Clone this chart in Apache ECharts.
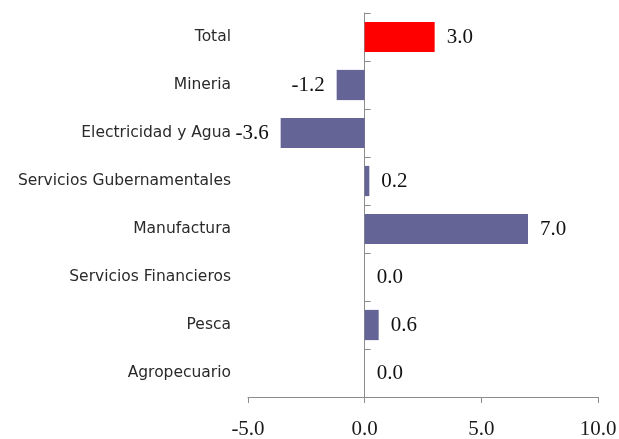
<!DOCTYPE html>
<html>
<head>
<meta charset="utf-8">
<script src="https://cdn.jsdelivr.net/npm/echarts@6/dist/echarts.min.js"></script>
<style>html,body{margin:0;padding:0;background:#fff}#c{width:619px;height:439px}</style>
</head>
<body>
<div id="c"></div>
<script>
const categories = ["Total", "Mineria", "Electricidad y Agua", "Servicios Gubernamentales", "Manufactura", "Servicios Financieros", "Pesca", "Agropecuario"];
const values = [3.0, -1.2, -3.6, 0.2, 7.0, 0.0, 0.6, 0.0];
const highlightCategory = "Total";
const xTicks = [-5, 0, 5, 10];

const chart = echarts.init(document.getElementById('c'), null, {renderer: 'canvas'});
chart.setOption({
  animation: false,
  backgroundColor: '#fff',
  grid: {left: 248, right: 21, top: 13, bottom: 42, containLabel: false, outerBoundsMode: 'none'},
  xAxis: {
    type: 'value', min: xTicks[0], max: xTicks[xTicks.length - 1], interval: 5,
    axisLine: {show: true, lineStyle: {color: '#8c8c8c', width: 1}},
    axisTick: {show: true, inside: false, length: 6, lineStyle: {color: '#8c8c8c'}},
    splitLine: {show: false},
    axisLabel: {margin: 22, color: '#1a1a1a', fontFamily: 'Liberation Serif', fontSize: 21,
      formatter: v => v.toFixed(1)}
  },
  yAxis: {
    type: 'category', data: categories, inverse: true,
    axisLine: {show: true, onZero: true, lineStyle: {color: '#8c8c8c', width: 1}},
    axisTick: {show: true, inside: true, length: 6, lineStyle: {color: '#8c8c8c'}},
    axisLabel: {margin: 17, color: '#2a2a2a', fontFamily: 'DejaVu Sans', fontSize: 15.5}
  },
  series: [{
    type: 'bar',
    barCategoryGap: '37%',
    data: values.map((v, i) => ({
      value: v,
      itemStyle: {color: categories[i] === highlightCategory ? '#ff0000' : '#646496'},
      label: {position: v < 0 ? 'left' : 'right'}
    })),
    label: {show: true, distance: 12, color: '#111', fontFamily: 'Liberation Serif', fontSize: 21,
      formatter: p => p.value.toFixed(1)}
  }]
});
</script>
</body>
</html>
